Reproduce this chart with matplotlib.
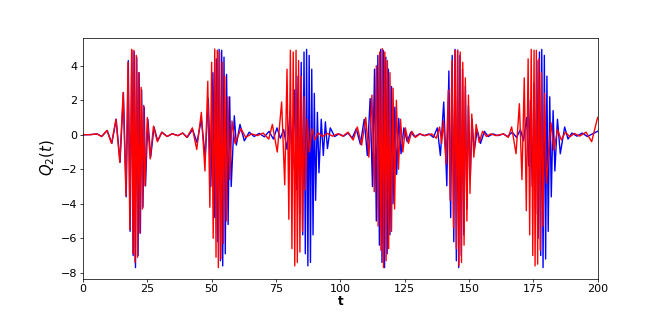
import matplotlib
matplotlib.use("Agg")
import matplotlib.pyplot as plt

# extrema of Q2(t): (t, value)
red_pts = [
    (0.0, 0.0), (3.0, 0.01), (5.4, 0.05), (7.2, -0.1), (9.3, 0.25), (11.1, -0.5), (12.8, 0.9),
    (14.3, -1.6), (15.6, 2.45), (16.7, -3.55), (17.5, 4.2), (18.2, -5.5), (18.9, 4.95), (19.4, -6.9),
    (19.8, 4.9), (20.2, -7.4), (20.7, 4.6), (21.2, -7.1), (21.6, 3.6), (22.1, -5.7), (22.6, 2.75),
    (23.1, -4.3), (23.6, 1.7), (24.1, -2.96), (25.0, 1.0), (26.1, -1.4), (27.4, 0.5), (28.9, -0.4),
    (30.6, 0.15), (32.6, -0.1), (34.6, 0.06), (36.8, -0.05), (38.7, 0.1), (40.4, -0.15),
    (42.5, 0.4), (44.2, -0.85), (46.0, 1.3), (47.4, -2.1), (48.5, 3.1), (49.3, -4.2), (50.0, 4.2),
    (50.6, -6.0), (51.2, 4.97), (51.7, -7.1), (52.2, 4.9), (52.6, -7.7), (53.1, 4.8), (53.6, -7.2),
    (54.1, 4.2), (54.6, -6.3), (55.1, 3.4), (55.7, -5.0), (56.3, 2.2), (57.0, -2.6), (57.9, 0.8),
    (59.1, -0.5), (61.4, 0.35), (63.2, -0.15), (65.5, 0.05), (67.8, -0.05), (70.0, 0.1), (72.2, -0.25),
    (73.6, 0.6), (75.5, -1.0), (77.2, 1.9), (78.4, -2.9), (79.3, 3.8), (80.0, -4.9), (80.6, 4.9),
    (81.2, -6.6), (81.7, 4.8), (82.3, -7.6), (82.8, 4.9), (83.3, -7.4), (83.8, 4.3), (84.3, -6.8),
    (84.8, 3.4), (85.3, -5.6), (85.9, 2.2), (86.5, -3.2), (87.2, 0.9), (88.0, -1.0), (89.0, 0.35),
    (90.1, -0.3), (91.4, 0.12), (93.0, -0.1), (95.0, 0.08), (97.0, -0.08), (99.0, 0.06), (101.0, -0.08),
    (103.0, 0.15), (105.0, -0.3), (106.6, 0.45), (108.3, -0.6), (109.9, 1.0), (111.1, -1.3),
    (112.3, 2.3), (113.2, -3.3), (114.0, 4.0), (114.7, -5.3), (115.3, 4.8), (115.8, -6.7), (116.3, 5.0),
    (116.8, -7.7), (117.3, 4.8), (117.8, -7.3), (118.3, 4.3), (118.8, -6.6), (119.3, 3.6), (119.9, -5.6),
    (120.5, 2.7), (121.1, -4.3), (121.8, 2.0), (122.6, -2.0), (123.4, 0.9), (124.3, -1.0), (125.3, 0.4),
    (126.5, -0.5), (127.8, 0.2), (129.2, -0.15), (131.0, 0.05), (133.0, -0.05), (135.5, 0.05),
    (137.3, -0.2), (138.6, 0.45), (139.4, -0.5), (140.1, 0.8), (141.1, -1.7), (142.0, 2.6), (142.7, -3.8),
    (143.4, 4.3), (144.0, -5.4), (144.6, 4.9), (145.1, -6.6), (145.6, 4.9), (146.1, -7.6), (146.6, 4.8),
    (147.1, -7.4), (147.6, 4.2), (148.1, -6.4), (148.6, 3.3), (149.2, -5.0), (149.8, 2.3), (150.4, -3.4),
    (151.1, 1.2), (151.9, -1.3), (152.8, 0.6), (154.0, -0.45), (155.3, 0.2), (156.8, -0.1), (158.5, 0.05),
    (160.5, -0.05), (163.5, 0.05), (165.3, -0.15), (166.6, 0.45), (168.3, -1.1), (169.6, 1.8),
    (170.6, -2.6), (171.5, 3.3), (172.3, -4.4), (173.0, 4.4), (173.6, -5.8), (174.2, 4.95), (174.8, -7.0),
    (175.3, 4.9), (175.7, -7.6), (176.2, 4.9), (176.7, -7.5), (177.2, 4.4), (177.7, -6.7), (178.2, 3.6),
    (178.8, -5.3), (179.4, 2.4), (180.1, -2.8), (181.9, 0.7), (183.0, -0.9), (184.4, 0.3), (185.9, -0.3),
    (187.5, 0.15), (189.2, -0.12), (191.0, 0.08), (193.0, -0.08), (195.5, 0.15), (197.7, -0.4),
    (200.0, 1.0),
]

blue_pts = [
    (0.0, 0.0), (3.0, 0.01), (5.5, 0.05), (7.3, -0.1), (9.4, 0.25), (11.2, -0.5), (12.9, 0.9),
    (14.4, -1.6), (15.7, 2.45), (16.8, -3.6), (17.6, 4.3), (18.3, -5.6), (19.0, 4.9), (19.5, -7.0),
    (19.9, 4.8), (20.4, -7.7), (20.9, 4.5), (21.4, -7.0), (21.8, 3.6), (22.3, -5.7), (22.8, 2.6),
    (23.3, -4.2), (23.8, 1.6), (24.3, -2.96), (25.2, 0.9), (26.3, -1.3), (27.6, 0.45), (29.0, -0.35),
    (30.7, 0.15), (32.7, -0.1), (34.7, 0.06), (36.9, -0.05), (38.8, 0.1), (40.5, -0.15),
    (42.6, 0.3), (44.3, -0.45), (46.0, 0.9), (47.5, -1.3), (48.7, 2.1), (49.7, -3.0), (50.5, 3.6),
    (51.2, -4.8), (51.8, 4.4), (52.4, -6.2), (52.9, 4.95), (53.4, -7.3), (53.9, 4.9), (54.3, -7.6),
    (54.8, 4.5), (55.3, -6.9), (55.8, 3.5), (56.4, -5.2), (57.0, 2.2), (57.6, -3.0), (58.8, 1.1),
    (59.6, -0.6), (61.0, 0.6), (62.7, -0.35), (64.6, 0.15), (66.5, -0.1), (68.5, 0.08), (70.5, -0.12),
    (72.3, 0.2), (74.0, -0.25), (75.4, 0.4), (76.7, -0.2), (78.0, 0.3), (79.3, -0.85), (80.5, 1.4),
    (81.5, -2.0), (82.3, 2.6), (83.0, -3.2), (83.6, 3.4), (84.2, -4.6), (84.8, 4.2), (85.4, -5.8),
    (85.9, 4.8), (86.4, -6.9), (86.9, 4.95), (87.4, -7.6), (87.9, 4.6), (88.4, -7.4), (88.9, 3.8),
    (89.4, -5.8), (89.9, 2.4), (90.4, -3.8), (91.1, 1.3), (91.7, -2.2), (92.6, 0.9), (93.4, -1.2),
    (94.2, 0.75), (95.0, -0.8), (96.1, 0.4), (97.8, -0.1), (99.5, 0.05), (101.3, -0.08), (103.0, 0.1),
    (104.6, -0.2), (106.2, 0.35), (107.8, -0.55), (109.3, 0.9), (110.5, -1.2), (111.6, 2.1),
    (112.5, -3.0), (113.3, 3.8), (114.0, -5.0), (114.6, 4.6), (115.2, -6.4), (115.7, 4.95), (116.2, -7.4),
    (116.7, 4.9), (117.2, -7.7), (117.7, 4.5), (118.2, -6.9), (118.7, 3.8), (119.3, -5.8), (119.9, 2.8),
    (120.5, -4.0), (121.2, 1.6), (121.9, -2.3), (122.7, 0.95), (123.6, -1.1), (124.7, 0.4), (126.0, -0.4),
    (127.4, 0.15), (128.9, -0.12), (130.7, 0.05), (132.6, -0.05), (134.5, 0.05), (136.2, -0.15),
    (137.7, 0.4), (138.9, -1.2), (140.2, 1.9), (141.4, -2.96), (142.2, 3.7), (142.9, -4.8), (143.5, 4.6),
    (144.1, -6.2), (144.6, 4.95), (145.1, -7.3), (145.6, 4.9), (146.0, -7.7), (146.5, 4.6), (147.0, -7.0),
    (147.5, 3.8), (148.0, -5.8), (148.6, 2.8), (149.2, -4.3), (149.8, 1.7), (150.5, -2.6), (151.2, 0.9),
    (152.0, -1.0), (153.2, 0.3), (154.5, -0.5), (156.0, 0.2), (157.5, -0.1), (159.3, 0.05),
    (161.3, -0.05), (163.3, 0.05), (165.0, -0.1), (166.8, 0.15), (168.5, -0.15), (170.0, 0.3),
    (171.2, -0.35), (172.4, 1.0), (173.2, -1.8), (173.9, 2.0), (174.6, -3.0), (175.3, 3.0), (175.9, -4.6),
    (176.4, 4.3), (176.9, -6.0), (177.4, 4.8), (177.9, -7.0), (178.3, 4.95), (178.8, -7.7), (179.3, 4.6),
    (179.8, -7.2), (180.3, 3.4), (180.8, -5.6), (181.4, 2.2), (182.0, -3.6), (182.7, 1.4), (183.4, -2.1),
    (184.4, 0.9), (185.5, -1.1), (187.2, 0.45), (188.5, -0.25), (190.0, 0.1), (192.0, -0.08),
    (194.0, 0.1), (196.0, -0.1), (198.0, 0.05), (200.0, 0.2),
]

t_blue = [p[0] for p in blue_pts]
q_blue = [p[1] for p in blue_pts]
t_red = [p[0] for p in red_pts]
q_red = [p[1] for p in red_pts]

fig = plt.figure(figsize=(10, 313 / 66.4), dpi=66.4)
ax = fig.add_subplot(111)
ax.plot(t_blue, q_blue, color='blue', lw=1.5)
ax.plot(t_red, q_red, color='red', lw=1.5)

ax.set_xlim(0, 200)
ax.set_xticks([0, 25, 50, 75, 100, 125, 150, 175, 200])
ax.set_yticks([-8, -6, -4, -2, 0, 2, 4])
ax.tick_params(labelsize=12, pad=2.5)
ax.set_xlabel('t', fontsize=13, fontweight='bold', labelpad=1)
ax.set_ylabel(r'$Q_2(t)$', fontsize=16)

fig.savefig('out.png', dpi=66.4)
